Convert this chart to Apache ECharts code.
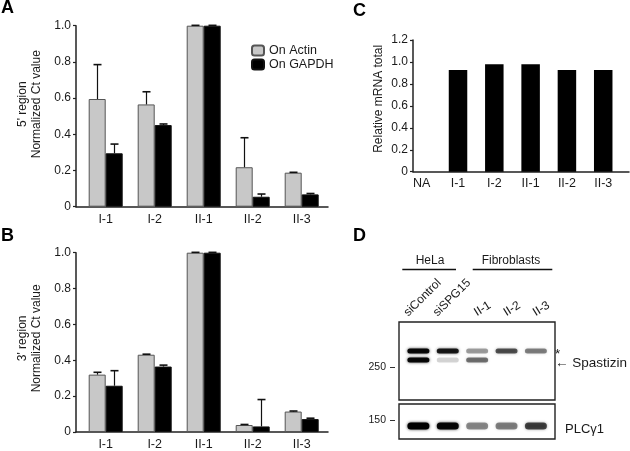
<!DOCTYPE html>
<html>
<head>
<meta charset="utf-8">
<script src="https://cdn.jsdelivr.net/npm/echarts@6/dist/echarts.min.js"></script>
<style>html,body{margin:0;padding:0;background:#fff}#c{width:630px;height:451px}</style>
</head>
<body>
<div id="c"></div>
<script>
// ---------- DATA ----------
const catsAB = ['I-1', 'I-2', 'II-1', 'II-2', 'II-3'];
// Panel A (5' region)
const actin5 = [0.595, 0.565, 1.0, 0.218, 0.188];
const actin5Sd = [0.19, 0.07, 0.002, 0.163, 0.002];
const gapdh5 = [0.295, 0.451, 1.0, 0.055, 0.068];
const gapdh5Sd = [0.051, 0.006, 0.002, 0.015, 0.005];
// Panel B (3' region)
const actin3 = [0.32, 0.431, 1.0, 0.039, 0.114];
const actin3Sd = [0.013, 0.003, 0.002, 0.003, 0.003];
const gapdh3 = [0.258, 0.365, 1.0, 0.031, 0.072];
const gapdh3Sd = [0.084, 0.008, 0.002, 0.15, 0.005];
// Panel C
const catsC = ['NA', 'I-1', 'I-2', 'II-1', 'II-2', 'II-3'];
const mrnaTotal = [null, 0.927, 0.979, 0.979, 0.927, 0.927];
const abTicks = [0, 0.2, 0.4, 0.6, 0.8, 1.0];
const cTicks = [0, 0.2, 0.4, 0.6, 0.8, 1.0, 1.2];
// Panel D (western blot band intensities, 0..1)
const lanes = ['siControl', 'siSPG15', 'II-1', 'II-2', 'II-3'];
const upperRows = ['*', 'Spastizin'];
const starBand = [0.95, 0.85, 0.35, 0.62, 0.45];
const spastizinBand = [0.95, 0.16, 0.5, 0, 0];
const lowerRows = ['PLC\u03b31'];
const plcBand = [1.0, 0.95, 0.42, 0.45, 0.68];
const groupLabels = ['HeLa', 'Fibroblasts'];
const markers = ['250', '150'];

// ---------- CHART ----------
const FONT = 'Liberation Sans, Arial, sans-serif';
const TXT = '#1a1a1a';
const AX = '#222';
const chart = echarts.init(document.getElementById('c'), null, {renderer: 'canvas'});

function errSeries(xi, yi, vals, sds, off) {
  return {
    type: 'custom', xAxisIndex: xi, yAxisIndex: yi, z: 5, silent: true,
    encode: {x: 0, y: 1},
    data: vals.map((v, i) => [i, v, v + sds[i]]),
    renderItem: (p, api) => {
      const b = api.coord([api.value(0), api.value(1)]);
      const t = api.coord([api.value(0), api.value(2)]);
      const x = Math.round(b[0] + off) + 0.5;
      return {type: 'group', children: [
        {type: 'polyline', shape: {points: [[x, b[1]], [x, t[1]]]}, style: {stroke: '#111', lineWidth: 1.2, fill: null}},
        {type: 'polyline', shape: {points: [[x - 4, t[1]], [x + 4, t[1]]]}, style: {stroke: '#111', lineWidth: 1.6, fill: null}}
      ]};
    }
  };
}
function bandSeries(xi, yi, rows, h) {
  const data = [];
  rows.forEach((arr, r) => arr.forEach((v, i) => data.push([i, r, v])));
  return {
    type: 'custom', xAxisIndex: xi, yAxisIndex: yi, silent: true, data,
    encode: {x: 0, y: 1},
    renderItem: (p, api) => {
      const a = api.value(2);
      if (!(a > 0)) return null;
      const c = api.coord([api.value(0), api.value(1)]);
      const w = 22;
      return {type: 'rect', shape: {x: c[0] - w / 2, y: c[1] - h / 2, width: w, height: h, r: h / 2},
        style: {fill: 'rgba(0,0,0,' + a + ')', shadowBlur: 3, shadowColor: 'rgba(0,0,0,' + (a * 0.8) + ')'}};
    }
  };
}
const fmtY = v => (v === 0 ? '0' : v.toFixed(1));
function abX(gi) {
  return {gridIndex: gi, type: 'value', min: -0.606, max: 4.537,
    axisLine: {show: true, onZero: false, lineStyle: {color: AX, width: 1.5}},
    axisTick: {show: false}, splitLine: {show: false},
    axisLabel: {customValues: catsAB.map((_, i) => i), formatter: v => catsAB[Math.round(v)],
      fontSize: 12.5, color: TXT, fontFamily: FONT, margin: 6}};
}
function yAx(gi, max, ticks, name, gap, shift) {
  return {gridIndex: gi, type: 'value', min: 0, max: max, interval: 0.2,
    axisLine: {show: true, onZero: false, lineStyle: {color: AX, width: 1.5}},
    axisTick: {show: true, length: 3, lineStyle: {color: AX, width: 1.2}},
    splitLine: {show: false},
    axisLabel: {customValues: ticks, formatter: fmtY, fontSize: 12, color: TXT, fontFamily: FONT, margin: 5},
    name: name, nameLocation: 'middle', nameRotate: 90, nameGap: gap,
    nameTextStyle: {fontSize: 12, color: TXT, fontFamily: FONT, lineHeight: 14, padding: [0, 0, 0, shift]}};
}
const laneX = (extra) => Object.assign({gridIndex: 3, type: 'value', min: -0.66, max: 4.65, position: 'top', offset: 24.5,
  axisLine: {show: false, onZero: false}, axisTick: {show: false}, splitLine: {show: false}}, extra);
const hiddenX = (gi) => ({gridIndex: gi, type: 'value', min: -0.66, max: 4.65, show: false});
const rowY = (gi, rows, inverse, showLabel, labelExtra) => ({gridIndex: gi, type: 'category', data: rows, inverse: inverse,
  position: 'right', axisLine: {show: false, onZero: false}, axisTick: {show: false}, splitLine: {show: false},
  axisLabel: Object.assign({show: showLabel, interval: 0, color: TXT, fontFamily: FONT}, labelExtra)});

const graphic = [];
[['A', 1, -1], ['B', 1, 227], ['C', 353, 2], ['D', 353, 227]].forEach(([t, x, y]) => {
  graphic.push({type: 'text', x: x, y: y, style: {text: t, font: 'bold 18px ' + FONT, fill: '#000', align: 'left', verticalAlign: 'top'}});
});
// group labels over blot lanes
[[groupLabels[0], 430, 402.3, 456], [groupLabels[1], 511, 472.7, 552.3]].forEach(([t, cx, x1, x2]) => {
  graphic.push({type: 'text', x: cx, y: 261, style: {text: t, font: '12px ' + FONT, fill: TXT, align: 'center', verticalAlign: 'middle'}});
  graphic.push({type: 'line', shape: {x1: x1, y1: 269.5, x2: x2, y2: 269.5}, style: {stroke: '#111', lineWidth: 1.4}});
});
// molecular weight markers
[[markers[0], 367], [markers[1], 420]].forEach(([t, y]) => {
  graphic.push({type: 'text', x: 386, y: y + 0.5, style: {text: t, font: '10.5px ' + FONT, fill: TXT, align: 'right', verticalAlign: 'middle'}});
  graphic.push({type: 'line', shape: {x1: 390, y1: y + 0.5, x2: 395, y2: y + 0.5}, style: {stroke: '#333', lineWidth: 1}});
});
// blot frames
graphic.push({type: 'rect', shape: {x: 399, y: 322, width: 156, height: 78}, style: {fill: 'none', stroke: '#222', lineWidth: 1.4}});
graphic.push({type: 'rect', shape: {x: 399, y: 404, width: 156, height: 35}, style: {fill: 'none', stroke: '#222', lineWidth: 1.4}});

const option = {
  backgroundColor: '#fff',
  animation: false,
  textStyle: {fontFamily: FONT},
  legend: {
    data: ['On Actin', 'On GAPDH'], left: 251, top: 44, orient: 'vertical', padding: 0,
    itemWidth: 12, itemHeight: 10, itemGap: 1, selectedMode: false,
    textStyle: {fontSize: 12.5, color: TXT, fontFamily: FONT}
  },
  grid: [
    {left: 76, top: 25.7, width: 252, height: 181},
    {left: 76, top: 252.7, width: 252, height: 181.3},
    {left: 413, top: 40, width: 216, height: 131.7},
    {left: 399, top: 346.5, width: 156, height: 18},
    {left: 399, top: 420, width: 156, height: 12},
    {left: 399, top: 349.5, width: 156, height: 18},
    {left: 399, top: 423, width: 156, height: 12}
  ],
  xAxis: [
    abX(0),
    abX(1),
    {gridIndex: 2, type: 'value', min: -0.24, max: 5.71,
      axisLine: {show: true, onZero: false, lineStyle: {color: AX, width: 1.5}},
      axisTick: {show: false}, splitLine: {show: false},
      axisLabel: {customValues: catsC.map((_, i) => i), formatter: v => catsC[Math.round(v)],
        fontSize: 12.5, color: TXT, fontFamily: FONT, margin: 5}},
    hiddenX(3),
    laneX({axisLabel: {customValues: [0, 1], formatter: v => lanes[Math.round(v)], rotate: -45,
      align: 'center', verticalAlign: 'middle', margin: 20, padding: [0, 0, 0, 12],
      fontSize: 12, color: TXT, fontFamily: FONT}}),
    laneX({axisLabel: {customValues: [2, 3, 4], formatter: v => lanes[Math.round(v)], rotate: -32,
      align: 'center', verticalAlign: 'middle', margin: 9.6, padding: [0, 0, 0, 13],
      fontSize: 12, color: TXT, fontFamily: FONT}}),
    hiddenX(4),
    hiddenX(5),
    hiddenX(6)
  ],
  yAxis: [
    yAx(0, 1, abTicks, "5' region\nNormalized Ct value", 32, 24),
    yAx(1, 1, abTicks, "3' region\nNormalized Ct value", 32, 8),
    yAx(2, 1.2, cTicks, 'Relative mRNA total', 27, 14),
    rowY(3, upperRows, true, false, {}),
    rowY(4, lowerRows, false, false, {}),
    rowY(5, upperRows, true, true, {margin: 3, fontSize: 13.5,
      formatter: v => (v === upperRows[0] ? v : '\u2190 ' + v)}),
    rowY(6, lowerRows, false, true, {margin: 10, fontSize: 13})
  ],
  series: [
    {type: 'bar', name: 'On Actin', xAxisIndex: 0, yAxisIndex: 0, data: actin5.map((v, i) => [i, v]),
      barWidth: 17, barGap: '0%', itemStyle: {color: '#c8c8c8', borderColor: '#555', borderWidth: 1}},
    {type: 'bar', name: 'On GAPDH', xAxisIndex: 0, yAxisIndex: 0, data: gapdh5.map((v, i) => [i, v]),
      barWidth: 17, barGap: '0%', itemStyle: {color: '#000', borderColor: '#111', borderWidth: 1}},
    errSeries(0, 0, actin5, actin5Sd, -8.5),
    errSeries(0, 0, gapdh5, gapdh5Sd, 8.5),
    {type: 'bar', name: 'On Actin', xAxisIndex: 1, yAxisIndex: 1, data: actin3.map((v, i) => [i, v]),
      barWidth: 17, barGap: '0%', itemStyle: {color: '#c8c8c8', borderColor: '#555', borderWidth: 1}},
    {type: 'bar', name: 'On GAPDH', xAxisIndex: 1, yAxisIndex: 1, data: gapdh3.map((v, i) => [i, v]),
      barWidth: 17, barGap: '0%', itemStyle: {color: '#000', borderColor: '#111', borderWidth: 1}},
    errSeries(1, 1, actin3, actin3Sd, -8.5),
    errSeries(1, 1, gapdh3, gapdh3Sd, 8.5),
    {type: 'bar', name: 'mRNA', xAxisIndex: 2, yAxisIndex: 2, data: mrnaTotal.map((v, i) => [i, v]),
      barWidth: 18.5, itemStyle: {color: '#000'}},
    bandSeries(3, 3, [starBand, spastizinBand], 5),
    bandSeries(6, 4, [plcBand], 7)
  ],
  graphic: graphic
};
chart.setOption(option);
</script>
</body>
</html>
